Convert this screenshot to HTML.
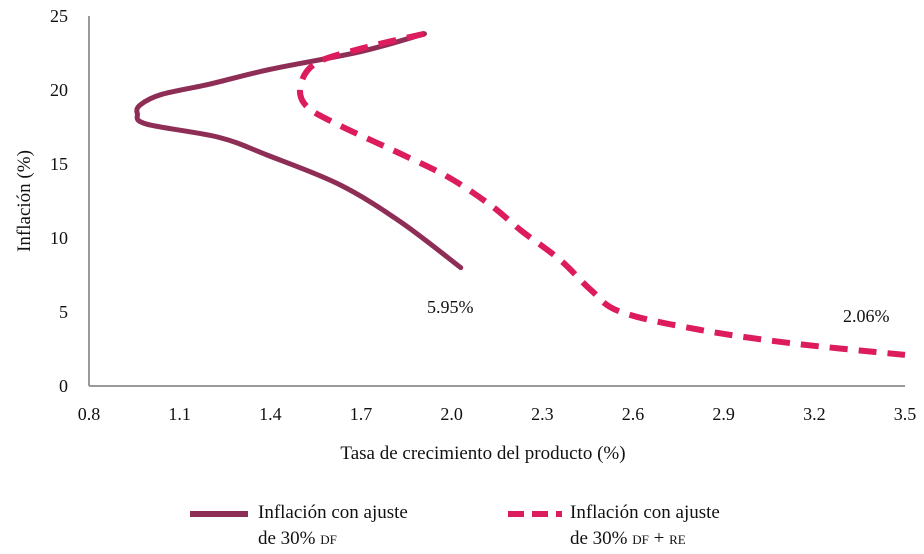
<!DOCTYPE html>
<html><head><meta charset="utf-8"><style>
body{margin:0;background:#fff;}
svg{display:block;font-family:"Liberation Serif",serif;}
.sc{font-variant:small-caps;}
</style></head><body>
<svg id="chart" width="924" height="554" viewBox="0 0 924 554">
<g id="axes"></g>
<g id="series"></g>
<text x="427" y="313" font-size="18" fill="#111">5.95%</text>
<text x="843" y="322" font-size="18" fill="#111">2.06%</text>
<text x="483" y="459" font-size="19" text-anchor="middle" fill="#111">Tasa de crecimiento del producto (%)</text>
<text transform="translate(30,201) rotate(-90)" font-size="19" text-anchor="middle" fill="#111">Inflación (%)</text>
<g>
<line x1="190" y1="514" x2="248" y2="514" stroke="#8e2d55" stroke-width="6"/>
<text x="258" y="518" font-size="19" fill="#111">Inflación con ajuste</text>
<text x="258" y="544" font-size="19" fill="#111">de 30% <tspan class="sc">df</tspan></text>
<line x1="508" y1="514" x2="562" y2="514" stroke="#dc1c5c" stroke-width="6" stroke-dasharray="16,8"/>
<text x="570" y="518" font-size="19" fill="#111">Inflación con ajuste</text>
<text x="570" y="544" font-size="19" fill="#111">de 30% <tspan class="sc">df + re</tspan></text>
</g>
</svg>
<script>
const xTicks=[0.8,1.1,1.4,1.7,2.0,2.3,2.6,2.9,3.2,3.5];
const yTicks=[0,5,10,15,20,25];
const solidX=[1.91,1.7,1.4,1.2,1.04,0.97,0.96,0.99,1.23,1.39,1.63,1.83,2.03];
const solidY=[23.8,22.6,21.4,20.4,19.7,19.0,18.4,17.7,16.8,15.6,13.6,11.1,8.0];
const dashX=[1.91,1.7,1.55,1.5,1.52,1.63,1.83,1.99,2.13,2.23,2.36,2.46,2.56,2.82,3.12,3.5];
const dashY=[23.8,22.8,21.8,20.3,18.9,17.6,15.7,14.1,12.2,10.5,8.5,6.5,5.0,3.8,2.9,2.1];
const X0=89,X1=905,Y0=386,Y1=16;
const sx=v=>X0+(v-0.8)/2.7*(X1-X0);
const sy=v=>Y0-v/25*(Y0-Y1);
const NS="http://www.w3.org/2000/svg";
const ax=document.getElementById('axes'),se=document.getElementById('series');
function mk(t,a,p){const e=document.createElementNS(NS,t);for(const k in a)e.setAttribute(k,a[k]);p.appendChild(e);return e;}
let l=mk('line',{x1:X0,y1:Y0,x2:X1,y2:Y0,stroke:'#999','stroke-width':2},ax);


l=mk('line',{x1:X0,y1:Y1,x2:X0,y2:Y0,stroke:'#999','stroke-width':2},ax);


xTicks.forEach(v=>{const t=mk('text',{x:sx(v),y:Y0+34,'font-size':18,'text-anchor':'middle',fill:'#111'},ax);t.textContent=v.toFixed(1);

});
yTicks.forEach(v=>{const t=mk('text',{x:68,y:sy(v)+6,'font-size':18,'text-anchor':'end',fill:'#111'},ax);t.textContent=v;

});
function path(xs,ys){const p=xs.map((x,i)=>[sx(x),sy(ys[i])]);let d='M'+p[0];for(let i=0;i<p.length-1;i++){const a=p[Math.max(0,i-1)],b=p[i],c=p[i+1],e=p[Math.min(p.length-1,i+2)];
d+=' C'+(b[0]+(c[0]-a[0])/6)+','+(b[1]+(c[1]-a[1])/6)+' '+(c[0]-(e[0]-b[0])/6)+','+(c[1]-(e[1]-b[1])/6)+' '+c[0]+','+c[1];}return d;}
let s=mk('path',{d:path(solidX,solidY),fill:'none',stroke:'#8e2d55','stroke-width':5,'stroke-linecap':'round','stroke-linejoin':'round'},se);


s=mk('path',{d:path(dashX,dashY),fill:'none',stroke:'#dc1c5c','stroke-width':6,'stroke-dasharray':'18,11'},se);


</script>
</body></html>
